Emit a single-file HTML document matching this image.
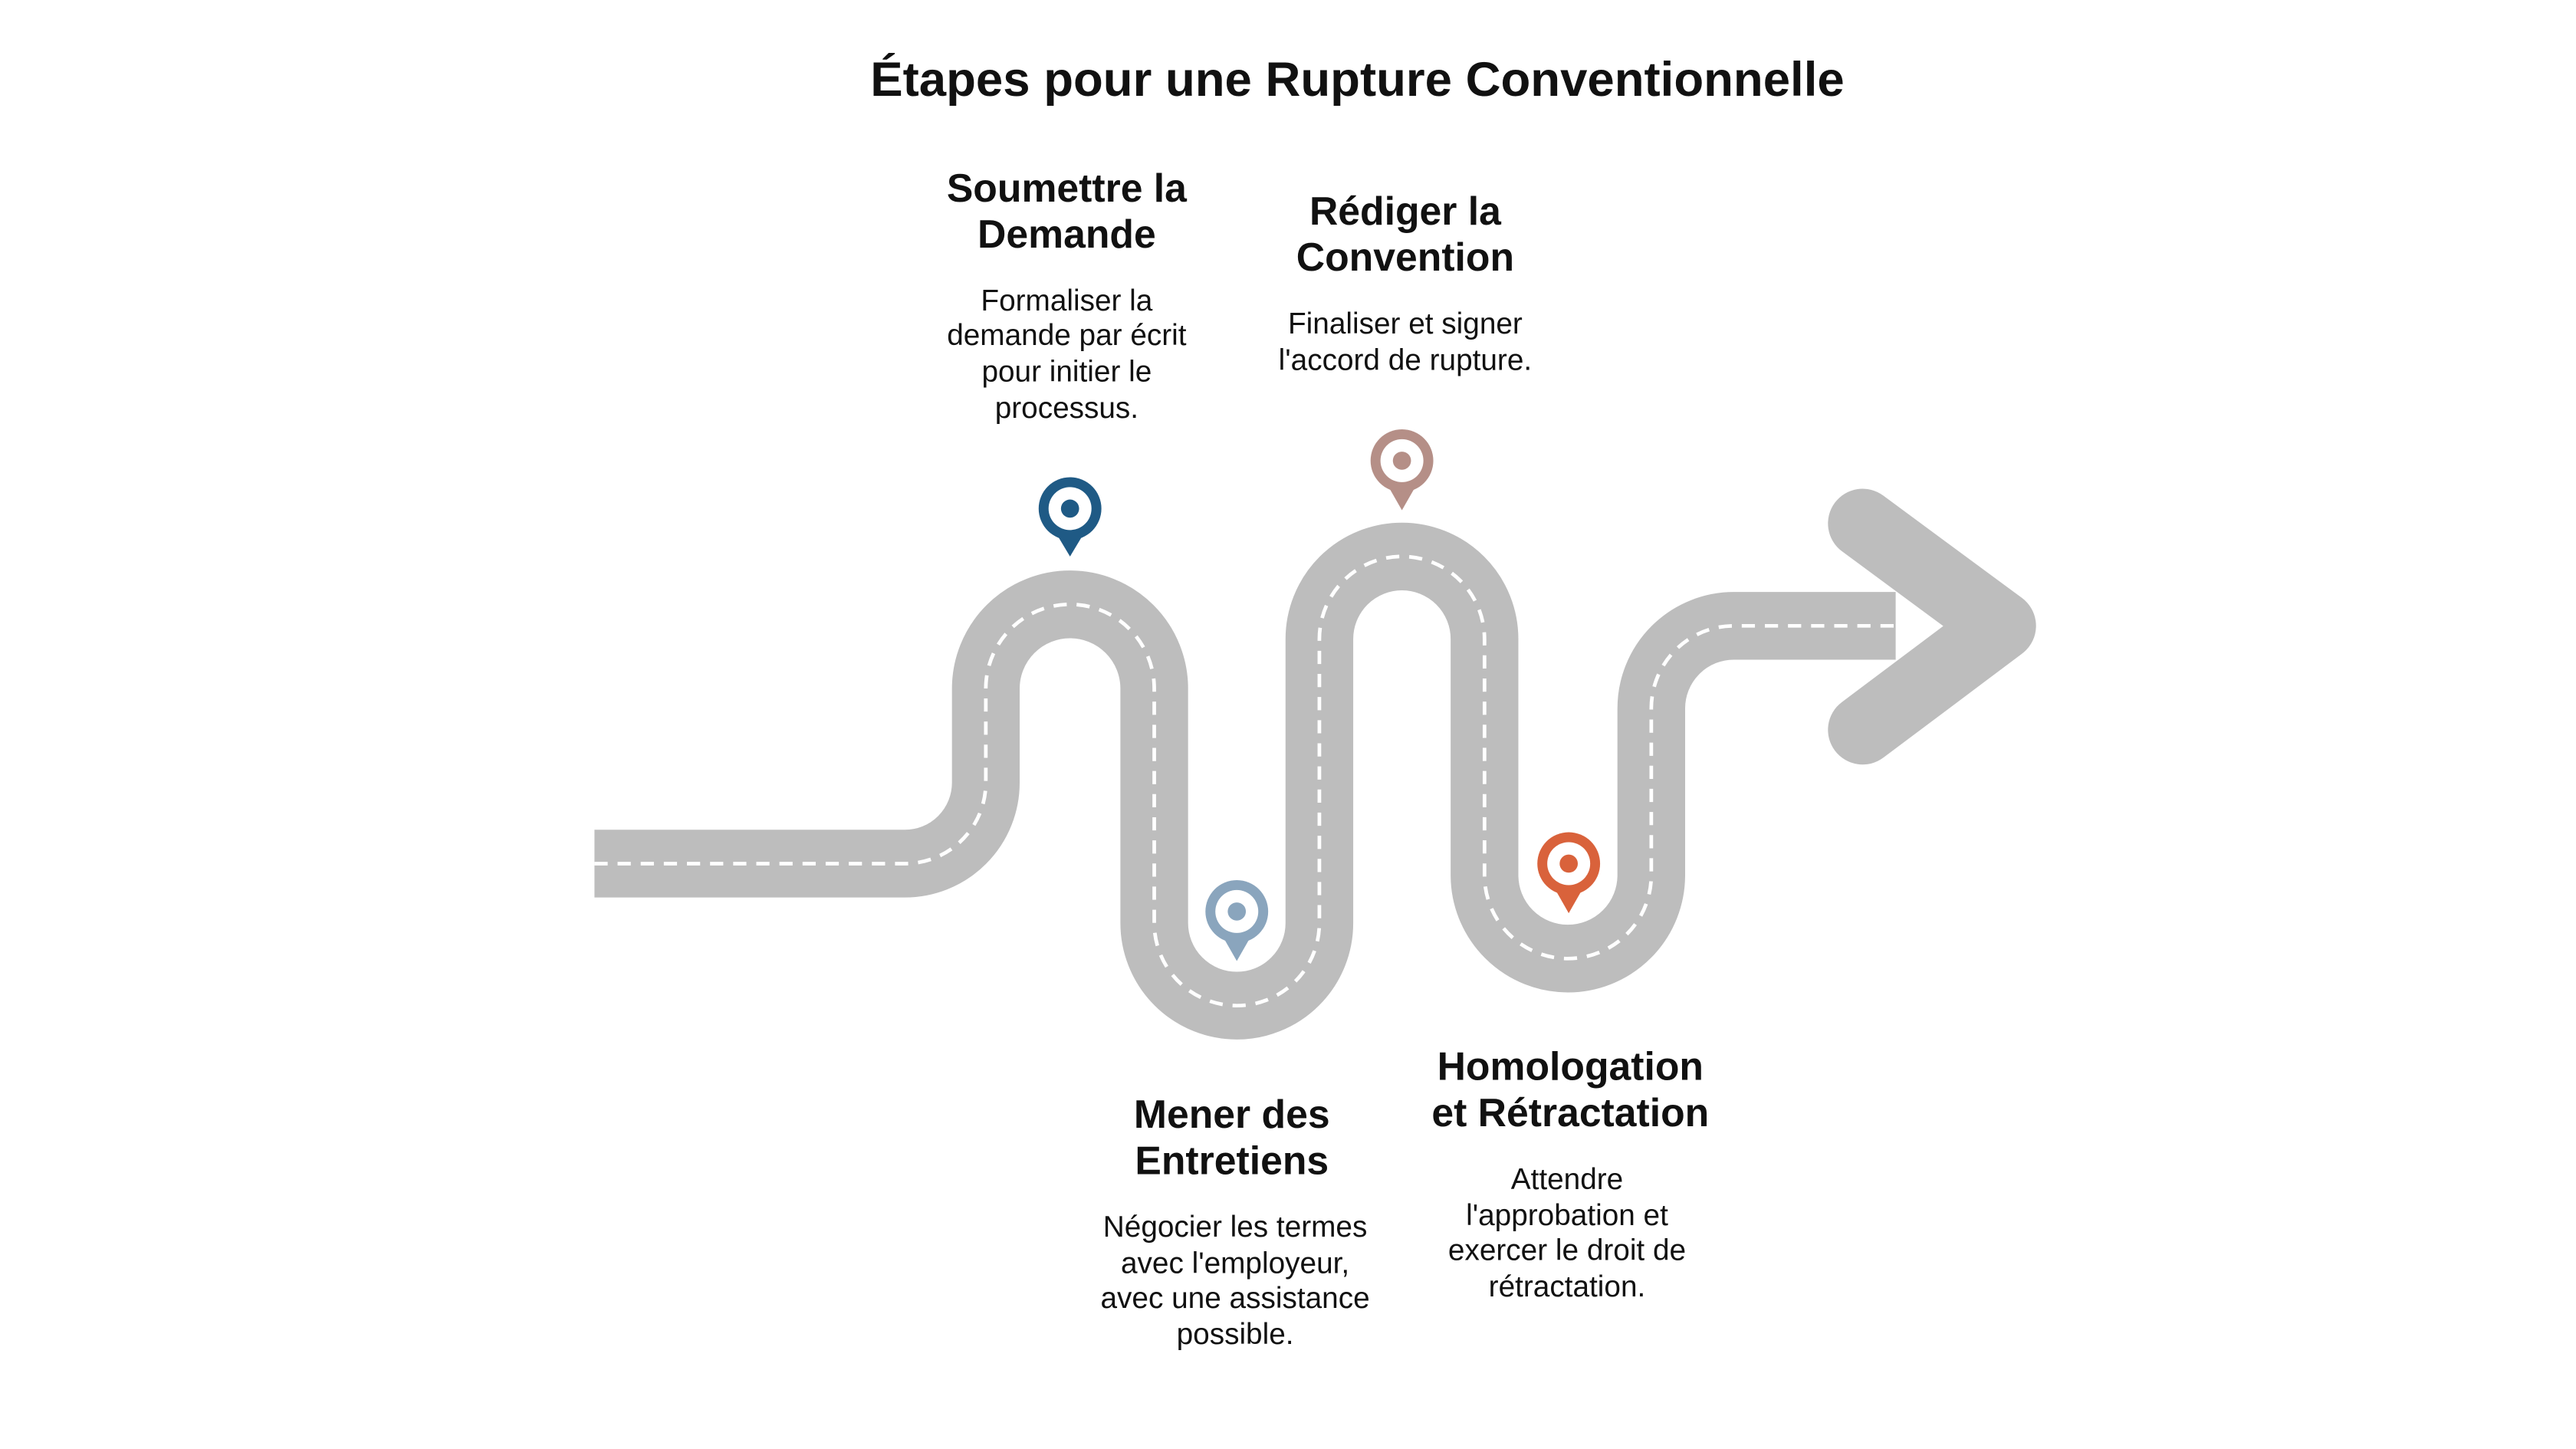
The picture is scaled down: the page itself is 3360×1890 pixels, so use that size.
<!DOCTYPE html>
<html><head><meta charset="utf-8"><style>
html,body{margin:0;padding:0;background:#fff;}
svg{display:block;}
text{font-family:"Liberation Sans",Arial,sans-serif;fill:#111;text-anchor:middle;}
.h{font-weight:bold;font-size:24px;}
.b{font-size:18px;}
</style></head><body>
<svg width="3360" height="1890" viewBox="0 0 1560 877.5" xmlns="http://www.w3.org/2000/svg">
<rect width="1560" height="877.5" fill="#fff"/>
<g transform="translate(-2,-1)">
<text x="824" y="59" style="font-weight:bold;font-size:29.5px">Étapes pour une Rupture Conventionnelle</text>

<path d="M362,524 H550 A49,49 0 0 0 599,475 V418 A51,51 0 0 1 701,418 V560 A50,50 0 0 0 801,560 V388 A50,50 0 0 1 901,388 V531 A50.5,50.5 0 0 0 1002,531 V430 A50,50 0 0 1 1052,380 H1150" fill="none" stroke="#bdbdbd" stroke-width="41"/>
<polyline points="1130,318 1214,380 1130,443" fill="none" stroke="#bdbdbd" stroke-width="42" stroke-linecap="round" stroke-linejoin="round"/>
<path d="M362,524 H550 A49,49 0 0 0 599,475 V418 A51,51 0 0 1 701,418 V560 A50,50 0 0 0 801,560 V388 A50,50 0 0 1 901,388 V531 A50.5,50.5 0 0 0 1002,531 V430 A50,50 0 0 1 1052,380 H1150" fill="none" stroke="#fff" stroke-width="2.2" stroke-dasharray="8,6"/>

<g>
<path d="M638,318 L650,338 L662,318 Z" fill="#1f5a85"/><circle cx="650" cy="309" r="19" fill="#1f5a85"/><circle cx="650" cy="309" r="13" fill="#fff"/><circle cx="650" cy="309" r="5.5" fill="#1f5a85"/>
<path d="M739,562 L751,583 L763,562 Z" fill="#8aa5bd"/><circle cx="751" cy="553" r="19" fill="#8aa5bd"/><circle cx="751" cy="553" r="13" fill="#fff"/><circle cx="751" cy="553" r="5.5" fill="#8aa5bd"/>
<path d="M839,289 L851,310 L863,289 Z" fill="#b58f87"/><circle cx="851" cy="280" r="19" fill="#b58f87"/><circle cx="851" cy="280" r="13" fill="#fff"/><circle cx="851" cy="280" r="5.5" fill="#b58f87"/>
<path d="M940,533 L952,554 L964,533 Z" fill="#d9623b"/><circle cx="952" cy="524" r="19" fill="#d9623b"/><circle cx="952" cy="524" r="13" fill="#fff"/><circle cx="952" cy="524" r="5.5" fill="#d9623b"/>
</g>

<text class="h" x="648" y="123">Soumettre la</text>
<text class="h" x="648" y="151">Demande</text>
<text class="b" x="648" y="189">Formaliser la</text>
<text class="b" x="648" y="210">demande par écrit</text>
<text class="b" x="648" y="232">pour initier le</text>
<text class="b" x="648" y="254">processus.</text>

<text class="h" x="853" y="137">Rédiger la</text>
<text class="h" x="853" y="165">Convention</text>
<text class="b" x="853" y="203">Finaliser et signer</text>
<text class="b" x="853" y="225">l'accord de rupture.</text>

<text class="h" x="748" y="684">Mener des</text>
<text class="h" x="748" y="712">Entretiens</text>
<text class="b" x="750" y="750">Négocier les termes</text>
<text class="b" x="750" y="772">avec l'employeur,</text>
<text class="b" x="750" y="793">avec une assistance</text>
<text class="b" x="750" y="815">possible.</text>

<text class="h" x="953" y="655">Homologation</text>
<text class="h" x="953" y="683">et Rétractation</text>
<text class="b" x="951" y="721">Attendre</text>
<text class="b" x="951" y="743">l'approbation et</text>
<text class="b" x="951" y="764">exercer le droit de</text>
<text class="b" x="951" y="786">rétractation.</text>
</g>
</svg>
</body></html>
